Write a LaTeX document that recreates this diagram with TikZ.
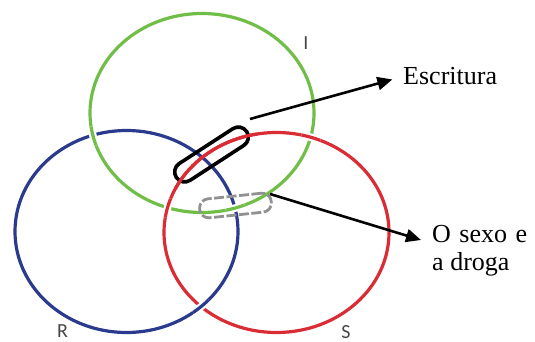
\documentclass[tikz,border=0pt]{standalone}
\usepackage{fontspec}
\setmainfont{Liberation Serif}
\newfontfamily\lblfont{Carlito}
\usetikzlibrary{arrows.meta}
\definecolor{ringG}{RGB}{112,190,72}
\definecolor{ringB}{RGB}{42,58,140}
\definecolor{ringR}{RGB}{218,44,52}
\definecolor{lblgray}{RGB}{70,70,70}
\definecolor{capgray}{RGB}{145,145,145}
\begin{document}
\begin{tikzpicture}[x=1pt,y=-1pt,
  ring/.style={line width=3.2pt},
  halo/.style={white,line width=7.5pt},
  pointer/.style={line width=2.6pt,-{Triangle[length=15pt,width=13pt]}},
  ringlabel/.style={font=\lblfont\fontsize{20}{22}\selectfont,text=lblgray,inner sep=0pt,anchor=base},
  caption/.style={font=\fontsize{26}{28}\selectfont,inner sep=0pt,anchor=base west},
  capsuleblack/.style={draw=black,line width=3.6pt,rounded corners=10pt,minimum width=84pt,minimum height=20pt,inner sep=0pt},
  capsulegray/.style={draw=capgray,line width=2.8pt,dash pattern=on 10pt off 2.5pt,rounded corners=9pt,minimum width=72pt,minimum height=19pt,inner sep=0pt}]
\useasboundingbox (0,0) rectangle (535,342);
\clip (0,0) rectangle (535,342);
% base rings
\draw[ring,ringG] (202,113) ellipse [x radius=112pt, y radius=99.5pt];
\draw[ring,ringB] (126.5,231.5) ellipse [x radius=111.5pt, y radius=101pt];
\draw[ring,ringR] (276.5,232.5) ellipse [x radius=112.5pt, y radius=100pt];
% green over blue
\begin{scope}
  \clip (94,136) circle [radius=10pt];
  \draw[halo] (202,113) ellipse [x radius=112pt, y radius=99.5pt];
  \draw[ring,ringG] (202,113) ellipse [x radius=112pt, y radius=99.5pt];
\end{scope}
\begin{scope}
  \clip (235,207) circle [radius=10pt];
  \draw[halo] (202,113) ellipse [x radius=112pt, y radius=99.5pt];
  \draw[ring,ringG] (202,113) ellipse [x radius=112pt, y radius=99.5pt];
\end{scope}
% red over green
\begin{scope}
  \clip (311,137.5) circle [radius=10pt];
  \draw[halo] (276.5,232.5) ellipse [x radius=112.5pt, y radius=100pt];
  \draw[ring,ringR] (276.5,232.5) ellipse [x radius=112.5pt, y radius=100pt];
\end{scope}
\begin{scope}
  \clip (167.5,208) circle [radius=10pt];
  \draw[halo] (276.5,232.5) ellipse [x radius=112.5pt, y radius=100pt];
  \draw[ring,ringR] (276.5,232.5) ellipse [x radius=112.5pt, y radius=100pt];
\end{scope}
% blue over red (lower)
\begin{scope}
  \clip (201,306.5) circle [radius=10pt];
  \draw[halo] (126.5,231.5) ellipse [x radius=111.5pt, y radius=101pt];
  \draw[ring,ringB] (126.5,231.5) ellipse [x radius=111.5pt, y radius=101pt];
\end{scope}
% black capsule (Escritura)
\node[capsuleblack,rotate=33] (escr) at (211.5,154.5) {};
\begin{scope}
  \clip (211.5,154.5) circle [radius=50pt];
  \draw[ring,ringR] (276.5,232.5) ellipse [x radius=112.5pt, y radius=100pt];
\end{scope}
% gray dashed capsule (O sexo e a droga)
\node[capsulegray,rotate=6] (sexo) at (235.5,205.5) {};
% ring labels
\node[ringlabel] (labI) at (306,50) {I};
\node[ringlabel] (labR) at (62.5,337) {R};
\node[ringlabel] (labS) at (346,338) {S};
% captions
\node[caption] (t1) at (403,85) {Escritura};
\node[caption] (t2) at (432,242) {\parbox[t]{95pt}{\fontsize{26}{28}\selectfont O sexo e a droga}};
% pointers
\coordinate (a1) at (250,119);
\coordinate (a2) at (270,194);
\coordinate (e2) at (421,240);
\draw[pointer,shorten >=11pt] (a1) -- (t1.west);
\draw[pointer] (a2) -- (e2);
\end{tikzpicture}
\end{document}
